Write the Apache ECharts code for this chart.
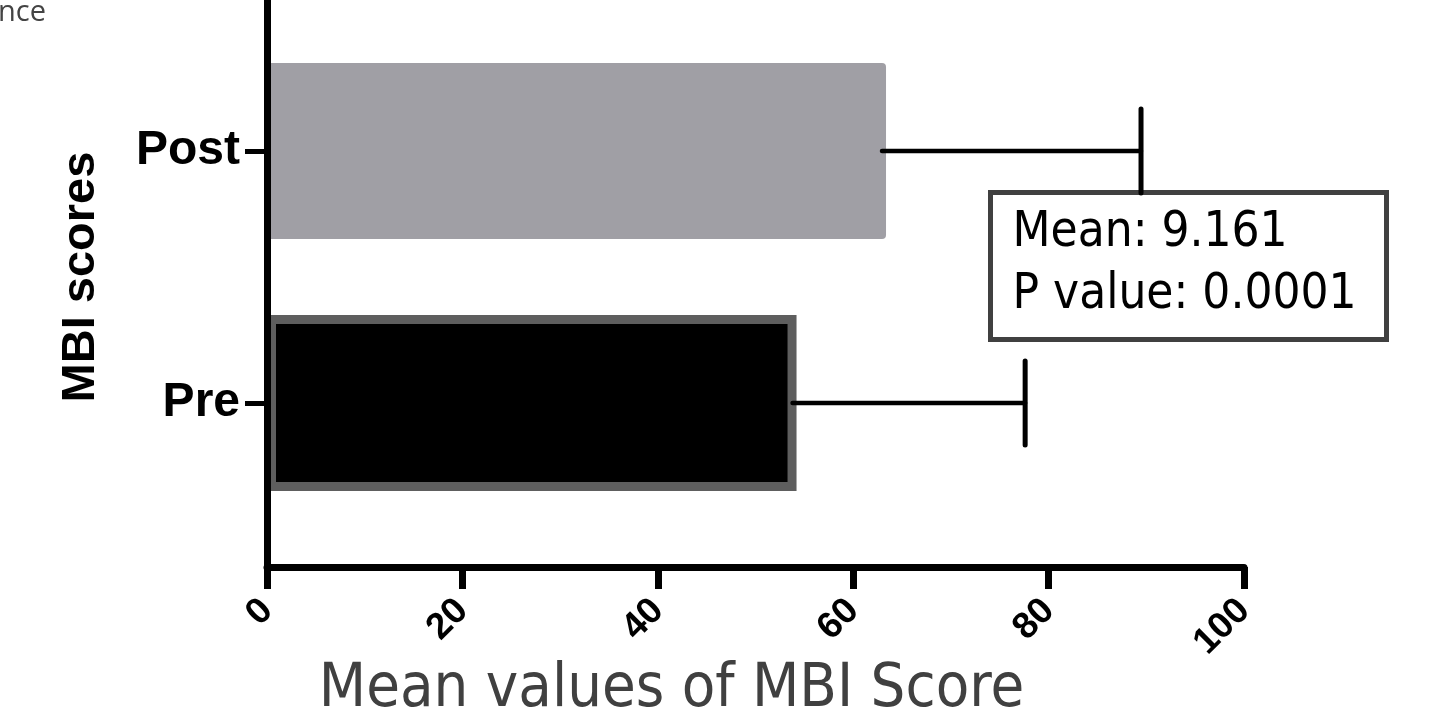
<!DOCTYPE html>
<html>
<head>
<meta charset="utf-8">
<script src="https://cdn.jsdelivr.net/npm/echarts@6/dist/echarts.min.js"></script>
<style>
html,body{margin:0;padding:0;background:#fff;}
#chart{width:1452px;height:722px;}
</style>
</head>
<body>
<div id="chart"></div>
<script>
// ---- data ----
const categories = ['Pre', 'Post'];
const meanValues = [54.2, 63.36];
const sdValues = [23.4, 26.1];
const xMin = 0, xMax = 100, xInterval = 20;
const xAxisTitle = 'Mean values of MBI Score';
const yAxisTitle = 'MBI scores';
const annotationLines = ['Mean: 9.161', 'P value: 0.0001'];
const cornerText = 'nce';

// ---- build ----
const barData = categories.map((c, i) => ({
  value: meanValues[i],
  itemStyle: i === 0
    ? { color: '#000000', borderColor: '#5e5e5e', borderWidth: 9 }
    : { color: '#a09fa5', borderRadius: [0, 4, 4, 0] }
}));
const errData = categories.map((c, i) => [meanValues[i], meanValues[i] + sdValues[i], i]);

const chart = echarts.init(document.getElementById('chart'), null, { renderer: 'canvas' });

const option = {
  backgroundColor: '#ffffff',
  animation: false,
  grid: [
    { left: 267, right: 208, top: 25, bottom: 193, containLabel: false, outerBoundsMode: 'none' },
    { left: 267, right: 208, top: -10, bottom: 152, containLabel: false, outerBoundsMode: 'none' }
  ],
  xAxis: [
    {
      gridIndex: 0,
      type: 'value',
      min: xMin, max: xMax, interval: xInterval,
      offset: 38,
      splitLine: { show: false },
      axisLine: { show: true, lineStyle: { color: '#000', width: 7 } },
      axisTick: { show: true, inside: false, length: 22, lineStyle: { color: '#000', width: 7 } },
      axisLabel: {
        rotate: 45, margin: 38, color: '#000',
        fontFamily: 'Liberation Sans, Arial, sans-serif', fontWeight: 'bold', fontSize: 37
      },
      name: xAxisTitle,
      nameLocation: 'middle',
      nameGap: 93,
      nameMoveOverlap: false,
      nameTextStyle: {
        fontFamily: 'DejaVu Sans Condensed, DejaVu Sans, sans-serif',
        fontSize: 61, color: '#404040', padding: [0, 168, 0, 0]
      }
    },
    {
      gridIndex: 1, type: 'value', min: 0, max: 1, show: false
    }
  ],
  yAxis: [
    {
      gridIndex: 0,
      type: 'category',
      data: categories,
      axisLine: { show: false },
      axisTick: { show: true, alignWithLabel: true, length: 22, lineStyle: { color: '#000', width: 5 } },
      axisLabel: {
        margin: 27, color: '#000',
        fontFamily: 'Liberation Sans, Arial, sans-serif', fontWeight: 'bold', fontSize: 48
      },
      name: yAxisTitle,
      nameLocation: 'middle',
      nameGap: 162,
      nameRotate: 90,
      nameMoveOverlap: false,
      nameTextStyle: {
        fontFamily: 'Liberation Sans, Arial, sans-serif', fontWeight: 'bold',
        fontSize: 47, color: '#000'
      }
    },
    {
      gridIndex: 1, type: 'value', min: 0, max: 1, z: 10,
      axisLine: { show: true, lineStyle: { color: '#000', width: 7 } },
      axisTick: { show: false }, axisLabel: { show: false }, splitLine: { show: false }
    }
  ],
  series: [
    {
      type: 'bar',
      xAxisIndex: 0, yAxisIndex: 0,
      barWidth: 176,
      data: barData
    },
    {
      type: 'custom',
      xAxisIndex: 0, yAxisIndex: 0,
      encode: { x: [0, 1], y: 2 },
      data: errData,
      z: 5,
      renderItem: function (params, api) {
        const idx = api.value(2);
        const p0 = api.coord([api.value(0), idx]);
        const p1 = api.coord([api.value(1), idx]);
        const half = 42;
        return {
          type: 'group',
          children: [
            { type: 'line', shape: { x1: p0[0] - 4, y1: p0[1], x2: p1[0], y2: p1[1] },
              style: { stroke: '#000', lineWidth: 4.5, lineCap: 'round' } },
            { type: 'line', shape: { x1: p1[0], y1: p1[1] - half, x2: p1[0], y2: p1[1] + half },
              style: { stroke: '#000', lineWidth: 5, lineCap: 'round' } }
          ]
        };
      }
    }
  ],
  graphic: [
    {
      type: 'group', left: 988, top: 190, z: 100,
      children: [
        { type: 'rect', shape: { x: 0, y: 0, width: 396, height: 147 },
          style: { fill: '#fff', stroke: '#404040', lineWidth: 5 } },
        { type: 'text', x: 22, y: 10,
          style: { text: annotationLines.join('\n'), fill: '#000',
            fontFamily: 'DejaVu Sans Condensed, DejaVu Sans, sans-serif', fontSize: 49, lineHeight: 62 } }
      ]
    },
    {
      type: 'text', x: -2, y: -2, z: 100,
      style: { text: cornerText, fill: '#444', fontFamily: 'Open Sans, sans-serif', fontSize: 29 }
    }
  ]
};
chart.setOption(option);
</script>
</body>
</html>
